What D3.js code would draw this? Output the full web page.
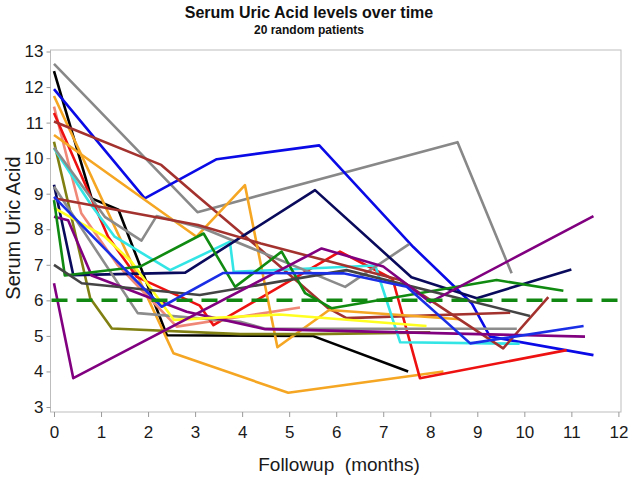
<!DOCTYPE html>
<html><head><meta charset="utf-8">
<script src="https://cdn.jsdelivr.net/npm/d3@7"></script>
<style>
body{margin:0;background:#fff}
svg{display:block;font-family:"Liberation Sans",Arial,Helvetica,sans-serif}
</style>
</head><body>
<svg id="chart" width="633" height="480"></svg>
<script>
// ---- data (month, serum uric acid) ----
const xTicks = [0,1,2,3,4,5,6,7,8,9,10,11,12];
const yTicks = [3,4,5,6,7,8,9,10,11,12,13];
const targetLevel = 6;
const titleText = "Serum Uric Acid levels over time";
const subtitleText = "20 random patients";

const pGrayA   = [[0,12.65],[3.05,8.48],[8.58,10.45],[9.73,6.76]];
const pBlack   = [[0,12.45],[0.8,8.87],[1.37,8.55],[2.4,5.02],[5.5,5.0],[7.53,4.0]];
const pBlueA   = [[0,11.94],[1.93,8.87],[3.46,9.97],[5.64,10.36],[7.64,7.5],[8.88,5.92],[9.27,4.98],[11.47,4.46]];
const pOrangeA = [[0,11.75],[2.54,4.51],[4.98,3.4],[8.28,4.0]];
const pSalmon  = [[0,11.45],[0.58,8.45],[1.35,7.0],[2.61,5.26],[3.96,5.54],[5.23,5.8]];
const pRed     = [[0,11.27],[1.15,7.79],[1.76,6.66],[3.1,5.85],[3.39,5.3],[6.08,7.37],[7.2,6.6],[7.78,3.81],[10.9,4.6]];
const pBrownA  = [[0,11.03],[2.28,9.81],[3.06,8.92],[4.2,7.65],[5.83,5.78],[6.22,5.5],[9.7,5.65]];
const pOrangeB = [[0,10.65],[3.03,7.79],[4.06,9.24],[4.75,4.68],[5.85,5.73],[8.63,5.47]];
const pOlive   = [[0,10.46],[0.77,6.06],[1.23,5.21],[3.96,5.05],[5.5,5.05],[8.0,5.1]];
const pCyan    = [[0,10.28],[0.79,8.68],[1.29,7.79],[2.47,6.85],[3.74,7.65],[3.82,6.8],[6.83,6.98],[7.36,4.82],[9.9,4.78]];
const pGrayB   = [[0,10.3],[1.08,8.35],[1.86,7.68],[2.18,8.37],[3.17,8.03],[6.19,6.38],[7.55,7.58]];
const pNavyA   = [[0,9.25],[0.41,6.71],[2.79,6.78],[5.55,9.1],[7.6,6.65],[8.99,6.06],[11.0,6.87]];
const pGrayC   = [[0,9.2],[1.78,5.64],[3.96,5.4],[4.49,5.2],[9.84,5.2]];
const pBrownB  = [[0,8.87],[3.06,8.12],[4.4,7.6],[7.36,6.57],[9.55,4.65],[10.51,6.09]];
const pPurpleA = [[0,8.35],[0.3,8.25],[0.8,6.7],[2.82,5.68],[4.49,5.19],[11.29,4.98]];
const pYellow  = [[0,8.6],[1.08,7.79],[1.65,7.08],[2.55,5.45],[4.8,5.6],[7.92,5.28]];
const pGreen   = [[0,8.82],[0.23,6.7],[1.83,6.95],[3.18,7.88],[3.85,6.38],[4.84,7.37],[5.34,6.2],[5.9,5.78],[9.41,6.57],[10.83,6.27]];
const pDarkGray= [[0,7.0],[0.59,6.48],[3.1,6.15],[6.22,6.85],[10.12,5.56]];
const pPurpleB = [[0,6.48],[0.41,3.81],[5.69,7.46],[7.0,6.95],[8.0,5.95],[11.47,8.37]];
const pBlueB   = [[0,8.91],[2.29,5.82],[3.6,6.77],[6.15,6.76],[7.5,6.38],[8.85,4.79],[11.26,5.28]];

const patients = [pGrayA,pBlack,pBlueA,pOrangeA,pSalmon,pRed,pBrownA,pOrangeB,pOlive,pCyan,
                  pGrayB,pNavyA,pGrayC,pBrownB,pPurpleA,pYellow,pGreen,pDarkGray,pPurpleB,pBlueB];
const patientColors = ["#888888","#000000","#0a0ae6","#f5a623","#f08878","#ee1111","#a3322e","#f5a623","#808012","#33e5e5",
                       "#8a8a8a","#0a0a5c","#8c8c8c","#a3322e","#800080","#ffff22","#118a11","#444444","#800080","#1a2ee6"];

// ---- drawing ----
const svg = d3.select("#chart");
const frame = {l:50.5, t:50, r:621, b:412};
const x = d3.scaleLinear().domain([0,12]).range([54,618.4]);
const y = d3.scaleLinear().domain([3,13]).range([407,51.5]);

svg.append("text").attr("x",309).attr("y",18).attr("text-anchor","middle")
  .attr("font-size",16).attr("font-weight","bold").attr("fill","#111").text(titleText);
svg.append("text").attr("x",309).attr("y",34).attr("text-anchor","middle")
  .attr("font-size",12).attr("font-weight","bold").attr("fill","#111").text(subtitleText);

svg.append("rect").attr("x",frame.l).attr("y",frame.t)
  .attr("width",frame.r-frame.l).attr("height",frame.b-frame.t)
  .attr("fill","none").attr("stroke","#bdbdbd").attr("stroke-width",1);

const yAxis = svg.append("g").attr("transform",`translate(${frame.l},0)`)
  .call(d3.axisLeft(y).tickValues(yTicks).tickSize(4).tickPadding(3).tickFormat(d3.format("d")));
const xAxis = svg.append("g").attr("transform",`translate(0,${frame.b})`)
  .call(d3.axisBottom(x).tickValues(xTicks).tickSize(5).tickPadding(9).tickFormat(d3.format("d")));
[yAxis,xAxis].forEach(g=>{
  g.select(".domain").remove();
  g.selectAll(".tick line").attr("stroke","#9a9a9a");
  g.selectAll(".tick text").attr("font-size",17).attr("fill","#1a1a1a")
   .attr("font-family","'Liberation Sans',Arial,sans-serif");
});

svg.append("text").attr("x",339).attr("y",471).attr("text-anchor","middle")
  .attr("font-size",19).attr("fill","#1a1a1a").attr("xml:space","preserve").text("Followup  (months)");
svg.append("text").attr("transform",`translate(20,228) rotate(-90)`).attr("text-anchor","middle")
  .attr("font-size",20).attr("fill","#1a1a1a").text("Serum Uric Acid");

const line = d3.line().x(d=>x(d[0])).y(d=>y(d[1]));
svg.append("g").selectAll("path").data(patients).join("path")
  .attr("d",line).attr("fill","none")
  .attr("stroke",(d,i)=>patientColors[i]).attr("stroke-width",2.6)
  .attr("stroke-linejoin","round").attr("stroke-linecap","butt");

svg.append("line").attr("x1",frame.l+1).attr("x2",frame.r)
  .attr("y1",y(targetLevel)).attr("y2",y(targetLevel))
  .attr("stroke","#118811").attr("stroke-width",3.5).attr("stroke-dasharray","16,9");
</script>
</body></html>
